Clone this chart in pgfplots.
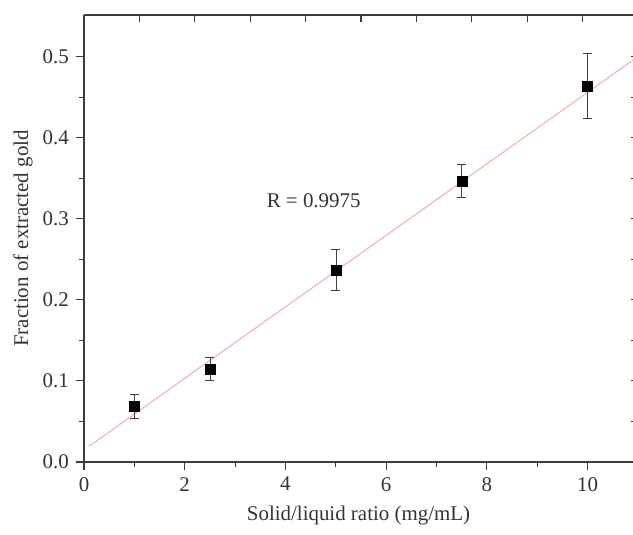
\documentclass[border=0pt]{standalone}
\usepackage{fontspec}
\setmainfont{Liberation Serif}
\usepackage{pgfplots}
\pgfplotsset{compat=1.18}

\definecolor{fitred}{RGB}{236,168,168}
\definecolor{spine}{RGB}{60,60,60}

\begin{document}
\fontsize{21}{25}\selectfont
\begin{tikzpicture}
\begin{axis}[
  scale only axis,
  width=554bp, height=447bp,
  xmin=0, xmax=11.0,
  ymin=0, ymax=0.5515,
  axis x line*=bottom, axis y line*=left,
  axis line style={spine, line width=1.3bp},
  tick align=outside,
  xtick={0,2,4,6,8,10},
  minor xtick={1,3,5,7,9},
  ytick={0,0.1,0.2,0.3,0.4,0.5},
  minor ytick={0.05,0.15,0.25,0.35,0.45},
  major tick length=8bp, minor tick length=5bp,
  every tick/.style={spine, line width=1.1bp},
  /pgf/number format/assume math mode=true,
  yticklabel style={/pgf/number format/.cd, fixed, fixed zerofill, precision=1},
  ticklabel style={font=\fontsize{21}{25}\selectfont, text=black!80},
  xlabel={Solid/liquid ratio (mg/mL)},
  ylabel={Fraction of extracted gold},
  xlabel style={at={(axis description cs:0.4955,-0.119)}, anchor=center, font=\fontsize{21}{25}\selectfont, text=black!80},
  ylabel style={at={(axis description cs:-0.110,0.5)}, anchor=center, font=\fontsize{21}{25}\selectfont, text=black!80},
  clip=false,
]
% linear fit
\addplot[fitred, line width=0.9bp] coordinates {(0.1,0.0194) (11.0,0.5002)};
% measured fractions with error bars
\addplot[only marks, mark=square*, mark size=5bp, black,
  error bars/.cd, y dir=both, y explicit,
  error bar style={black!75, line width=0.6bp},
  error mark options={rotate=90, mark size=4.5bp, black!75, line width=0.6bp}]
  coordinates {
    (1.0, 0.069) +- (0, 0.015)
    (2.5, 0.115) +- (0, 0.014)
    (5.0, 0.237) +- (0, 0.025)
    (7.5, 0.347) +- (0, 0.020)
    (10.0, 0.464) +- (0, 0.040)
  };
\node[text=black!80, font=\fontsize{21}{25}\selectfont] at (axis cs:4.56,0.322) {R = 0.9975};
\end{axis}
\begin{axis}[
  scale only axis,
  width=554bp, height=447bp,
  xmin=0, xmax=11.0,
  ymin=0, ymax=0.5515,
  axis x line*=top, axis y line*=right,
  axis line style={spine, line width=1.3bp},
  tick align=inside,
  xtick={1.1,2.2,3.3,4.4,5.5,6.6,7.7,8.8,9.9},
  ytick={0.05,0.1,0.15,0.2,0.25,0.3,0.35,0.4,0.45,0.5},
  xticklabels={}, yticklabels={},
  major tick length=7bp,
  every tick/.style={spine, line width=1.1bp},
]
\end{axis}
\pgfresetboundingbox
\path[use as bounding box] (-84bp,-73bp) rectangle (549bp,462bp);
\end{tikzpicture}
\end{document}
